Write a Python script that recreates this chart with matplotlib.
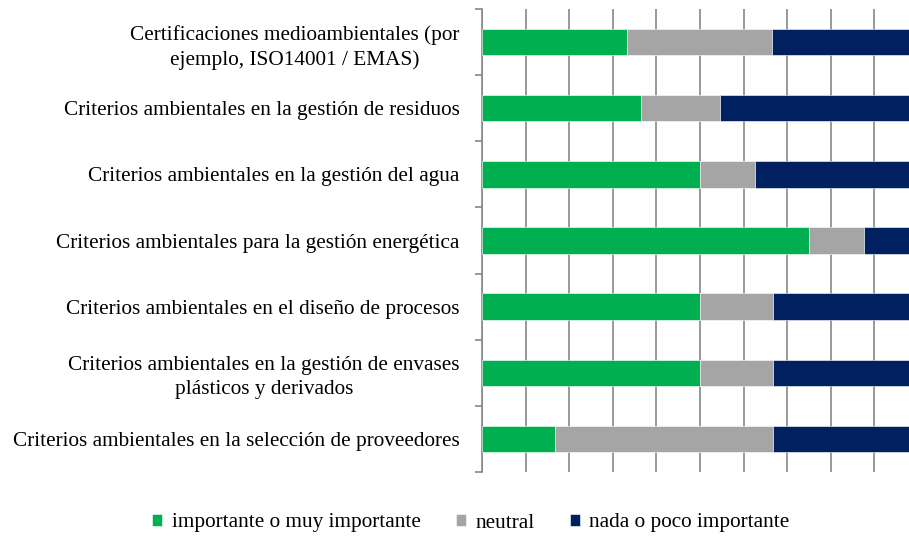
import numpy as np
import matplotlib
matplotlib.use('Agg')
import matplotlib.pyplot as plt

# Datos (proporción de respuestas por criterio)
categorias = [
    'Certificaciones medioambientales (por\nejemplo, ISO14001 / EMAS)',
    'Criterios ambientales en la gestión de residuos',
    'Criterios ambientales en la gestión del agua',
    'Criterios ambientales para la gestión energética',
    'Criterios ambientales en el diseño de procesos',
    'Criterios ambientales en la gestión de envases\nplásticos y derivados',
    'Criterios ambientales en la selección de proveedores',
]
importante = [0.333, 0.364, 0.500, 0.750, 0.500, 0.500, 0.167]
neutral = [0.333, 0.182, 0.125, 0.125, 0.167, 0.167, 0.500]
nada = [0.333, 0.455, 0.375, 0.125, 0.333, 0.333, 0.333]

series = ['importante o muy importante', 'neutral', 'nada o poco importante']
colores = ['#00B050', '#A5A5A5', '#002060']

plt.rcParams['font.family'] = ['Liberation Serif', 'DejaVu Serif']
FS = 15.3

fig = plt.figure(figsize=(9.09, 5.38), dpi=100)
# right edge lies a bit past the figure: the original is cropped at 100%
ax = fig.add_axes([482 / 909, 1 - 472 / 538, 436 / 909, 463 / 538])

y = np.arange(len(categorias))
left = np.zeros(len(categorias))
for vals, name, c in zip((importante, neutral, nada), series, colores):
    ax.barh(y, vals, left=left, height=0.4, color=c, label=name,
            edgecolor='white', linewidth=0.4, zorder=3)
    left += np.array(vals)

ax.set_xlim(0, 1)
ax.set_ylim(len(categorias) - 0.5, -0.5)
ax.set_xticks(np.arange(0, 1.01, 0.1))
ax.tick_params(axis='x', length=0, labelbottom=False)
ax.grid(axis='x', color='#888888', linewidth=1.2, zorder=0)

ax.set_yticks(y)
ax.set_yticklabels(categorias, fontsize=FS, multialignment='center',
                   linespacing=1.35)
ax.set_yticks(np.arange(-0.5, len(categorias), 1), minor=True)
ax.tick_params(axis='y', which='major', length=0, pad=16)
ax.tick_params(axis='y', which='minor', length=5, color='#888888', width=1.2)

for s in ('top', 'right', 'bottom'):
    ax.spines[s].set_visible(False)
ax.spines['left'].set_color('#888888')
ax.spines['left'].set_linewidth(1.2)

handles, labels = ax.get_legend_handles_labels()
fig.legend(handles, labels, loc='center', bbox_to_anchor=(471 / 909, 1 - 523 / 538),
           ncol=3, frameon=False, fontsize=FS, handlelength=0.47, handleheight=0.47,
           handletextpad=0.45, columnspacing=1.65)

fig.savefig('out.png', dpi=100)
